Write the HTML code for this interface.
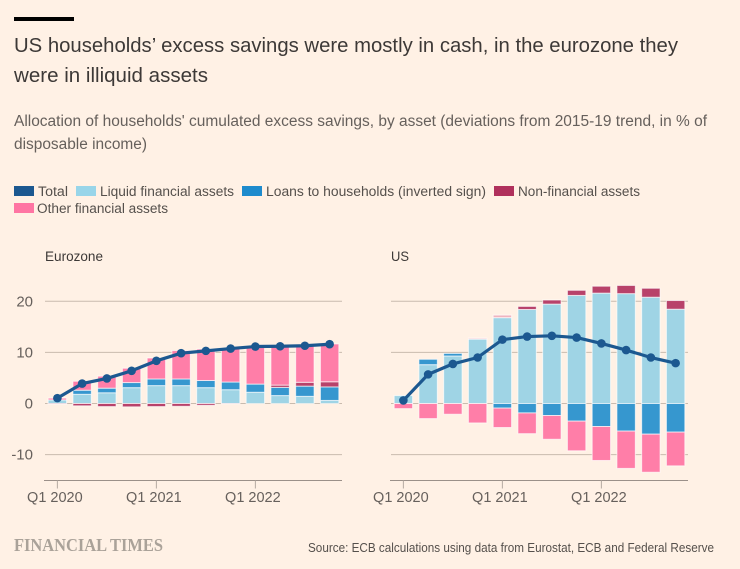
<!DOCTYPE html>
<html lang="en">
<head>
<meta charset="utf-8">
<title>US households' excess savings</title>
<style>
html,body{margin:0;padding:0;background:#fff1e5;}
body{width:740px;height:569px;overflow:hidden;}
svg{display:block;font-family:"Liberation Sans",sans-serif;}
</style>
</head>
<body>
<svg id="chart" width="740" height="569" viewBox="0 0 740 569" xmlns="http://www.w3.org/2000/svg">
  <rect x="0" y="0" width="740" height="569" fill="#fff1e5"/>
  <rect x="14" y="17" width="60" height="4" fill="#000"/>
  <text x="14" y="52" font-size="20" fill="#3d3937" textLength="664" lengthAdjust="spacingAndGlyphs">US households’ excess savings were mostly in cash, in the eurozone they</text>
  <text x="14" y="82" font-size="20" fill="#3d3937" textLength="194" lengthAdjust="spacingAndGlyphs">were in illiquid assets</text>
  <text x="14" y="126" font-size="15.5" fill="#66605c" textLength="693" lengthAdjust="spacingAndGlyphs">Allocation of households' cumulated excess savings, by asset (deviations from 2015-19 trend, in % of</text>
  <text x="14" y="149" font-size="15.5" fill="#66605c" textLength="133" lengthAdjust="spacingAndGlyphs">disposable income)</text>

  <g font-size="13.5" fill="#55504c">
    <rect x="14" y="186" width="20" height="10" fill="#1c5890"/>
    <text x="38" y="196" textLength="30" lengthAdjust="spacingAndGlyphs">Total</text>
    <rect x="76" y="186" width="20" height="10" fill="#98d5e9"/>
    <text x="100" y="196" textLength="134" lengthAdjust="spacingAndGlyphs">Liquid financial assets</text>
    <rect x="242" y="186" width="20" height="10" fill="#1e8bcd"/>
    <text x="266" y="196" textLength="220" lengthAdjust="spacingAndGlyphs">Loans to households (inverted sign)</text>
    <rect x="494" y="186" width="20" height="10" fill="#b0305c"/>
    <text x="518" y="196" textLength="122" lengthAdjust="spacingAndGlyphs">Non-financial assets</text>
    <rect x="14" y="203" width="20" height="10" fill="#ff75a3"/>
    <text x="37" y="213" textLength="131" lengthAdjust="spacingAndGlyphs">Other financial assets</text>
  </g>

  <text x="45" y="261" font-size="13.5" fill="#3d3937" textLength="58" lengthAdjust="spacingAndGlyphs">Eurozone</text>
  <text x="391" y="261" font-size="13.5" fill="#3d3937" textLength="18" lengthAdjust="spacingAndGlyphs">US</text>

  <g id="panels"></g>

  <text x="14" y="551" font-family="'Liberation Serif',serif" font-weight="bold" font-size="17.5" fill="#aaa299" textLength="149" lengthAdjust="spacingAndGlyphs">FINANCIAL TIMES</text>
  <text x="308" y="552" font-size="12.5" fill="#55504c" textLength="406" lengthAdjust="spacingAndGlyphs">Source: ECB calculations using data from Eurostat, ECB and Federal Reserve</text>
</svg>

<script>
var quarters = ['Q1 2020','Q2 2020','Q3 2020','Q4 2020','Q1 2021','Q2 2021','Q3 2021','Q4 2021','Q1 2022','Q2 2022','Q3 2022','Q4 2022'];
var xTickLabels = ['Q1 2020','Q1 2021','Q1 2022'];
var yTickValues = [20, 10, 0, -10];

var ezLiquid = [0.7, 1.8, 2.1, 3.1, 3.5, 3.5, 3.1, 2.7, 2.2, 1.55, 1.4, 0.6];
var ezLoans = [0, 0.8, 0.9, 1.0, 1.3, 1.3, 1.4, 1.5, 1.6, 1.6, 2.0, 2.65];
var ezNonFinancial = [-0.1, -0.45, -0.6, -0.65, -0.6, -0.55, -0.35, -0.05, 0, 0.45, 0.75, 1.0];
var ezOther = [0.35, 1.75, 2.35, 2.8, 4.1, 5.55, 6.15, 6.6, 7.15, 7.5, 7.05, 7.4];
var ezTotal = [1.05, 3.9, 4.9, 6.4, 8.35, 9.85, 10.3, 10.75, 11.15, 11.2, 11.3, 11.6];

var usLiquid = [1.55, 7.6, 9.3, 12.6, 16.8, 18.4, 19.45, 21.15, 21.6, 21.5, 20.8, 18.45];
var usLoans = [0, 1.05, 0.5, 0, -0.9, -1.85, -2.35, -3.45, -4.5, -5.4, -6.0, -5.6];
var usNonFinancial = [0, 0, 0, 0, 0, 0.6, 0.8, 1.0, 1.35, 1.6, 1.75, 1.7];
var usOther = [-1.0, -2.95, -2.1, -3.8, -3.8, -4.05, -4.65, -5.8, -6.65, -7.3, -7.45, -6.6];
var usTop = [0, 0, 0, 0.2, 0.5, 0, 0, 0, 0, 0, 0, 0];
var usTotal = [0.6, 5.7, 7.75, 9.0, 12.5, 13.1, 13.25, 12.9, 11.75, 10.45, 9.0, 7.9];

var NS = 'http://www.w3.org/2000/svg';
var PLOT_W = 297, ZERO_Y = 403.5, UNIT = 5.11, AXIS_Y = 480.5;

function yScale(v) { return ZERO_Y - v * UNIT; }
function xBand(left, i) { return left + (i + 0.5) * PLOT_W / quarters.length; }

function mk(tag, attrs, parent) {
  var el = document.createElementNS(NS, tag);
  for (var k in attrs) el.setAttribute(k, attrs[k]);
  parent.appendChild(el);
  return el;
}

function drawPanel(name, left, showY, series, total) {
  var g = mk('g', {}, document.getElementById('panels'));
  
  

  yTickValues.forEach(function (t) {
    var line = mk('line', {x1: left, x2: left + PLOT_W, y1: yScale(t), y2: yScale(t), stroke: '#c9bbae', 'stroke-width': 1}, g);
    
    
    if (showY) {
      var lab = mk('text', {x: 33, y: yScale(t) + 5, 'text-anchor': 'end', 'font-size': 15, fill: '#66605c'}, g);
      lab.textContent = t;
      
      
    }
  });

  quarters.forEach(function (q, i) {
    var cx = xBand(left, i), up = 0, down = 0;
    series.forEach(function (s) {
      var v = s.values[i];
      if (!v) return;
      var from = v > 0 ? up : down;
      var to = from + v;
      if (v > 0) up = to; else down = to;
      var y1 = yScale(Math.max(from, to)), y2 = yScale(Math.min(from, to));
      var bar = mk('rect', {
        x: cx - 9.2, y: y1, width: 18.4, height: y2 - y1,
        fill: s.color, stroke: '#fff', 'stroke-opacity': 0.65, 'stroke-width': 1
      }, g);
      
      
    });
  });

  var axis = mk('line', {x1: left - 1, x2: left + PLOT_W, y1: AXIS_Y, y2: AXIS_Y, stroke: '#9b9089', 'stroke-width': 1}, g);
  
  

  xTickLabels.forEach(function (label) {
    var cx = xBand(left, quarters.indexOf(label));
    var tick = mk('line', {x1: cx, x2: cx, y1: AXIS_Y, y2: AXIS_Y + 8, stroke: '#b5aaa1', 'stroke-width': 1}, g);
    
    
    var t = mk('text', {x: cx - 2.5, y: 502, 'text-anchor': 'middle', 'font-size': 14.5, fill: '#66605c'}, g);
    t.textContent = label;
    
    
  });

  var pts = total.map(function (v, i) { return xBand(left, i) + ',' + yScale(v); }).join(' ');
  var line = mk('polyline', {points: pts, fill: 'none', stroke: '#1c5890', 'stroke-width': 3.2, 'stroke-linejoin': 'round'}, g);
  
  
  total.forEach(function (v, i) {
    var c = mk('circle', {cx: xBand(left, i), cy: yScale(v), r: 4.3, fill: '#1c5890'}, g);
    
    
  });
}

var C_LIQ = '#9fd4e5', C_LOAN = '#3697cf', C_NON = '#b8426a', C_OTH = '#ff7ea8', C_PALE = '#f0b4bf';

drawPanel('eurozone', 45, true, [
  {key: 'liquid', values: ezLiquid, color: C_LIQ},
  {key: 'loans', values: ezLoans, color: C_LOAN},
  {key: 'non-financial', values: ezNonFinancial, color: C_NON},
  {key: 'other', values: ezOther, color: C_OTH}
], ezTotal);

drawPanel('us', 391, false, [
  {key: 'liquid', values: usLiquid, color: C_LIQ},
  {key: 'loans', values: usLoans, color: C_LOAN},
  {key: 'non-financial', values: usNonFinancial, color: C_NON},
  {key: 'other', values: usOther, color: C_OTH},
  {key: 'other-top', values: usTop, color: C_PALE}
], usTotal);
</script>
</body>
</html>
